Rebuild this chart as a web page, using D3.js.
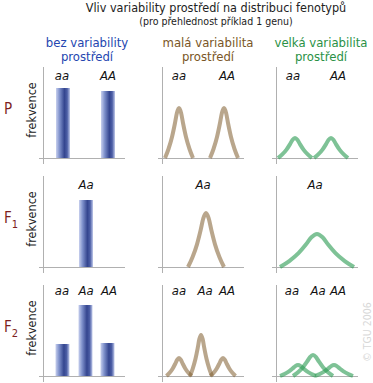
<!DOCTYPE html>
<html>
<head>
<meta charset="utf-8">
<script src="https://cdn.jsdelivr.net/npm/d3@7"></script>
<style>
  html, body { margin: 0; padding: 0; background: #fff; }
  svg { display: block; font-family: "DejaVu Sans Condensed", "DejaVu Sans", sans-serif; }
</style>
</head>
<body>
<div id="chart"></div>
<script>
// --- data ---
const title = "Vliv variability prostředí na distribuci fenotypů";
const subtitle = "(pro přehlednost příklad 1 genu)";
const columnTitles = [
  ["bez variability", "prostředí"],
  ["malá variabilita", "prostředí"],
  ["velká variabilita", "prostředí"],
];
const rowNames = [["P", ""], ["F", "1"], ["F", "2"]];
const yAxisTitle = "frekvence";

// genotype tick labels per row and their x positions (per column)
const genotypes = [["aa", "AA"], ["Aa"], ["aa", "Aa", "AA"]];
const labelX = [
  [[19, 65], [43], [19, 43, 66]],
  [[17, 65], [41], [17, 43, 65]],
  [[17, 62], [39], [16, 42, 62]],
];

// column 1: bars (centre, height)
const barX = [[20, 65], [43], [19.5, 42.5, 64.5]];
const barHeight = [[70, 67], [67], [32, 71, 33]];

// column 2 and 3: peaks (centre, height, half-width)
const smallPeakX = [[17, 62], [44], [17, 39, 61]];
const smallPeakHeight = [[50, 50], [54], [18, 41, 18]];
const smallPeakWidth = [[14, 14], [18], [12.5, 11, 12.5]];

const largePeakX = [[19, 55], [41], [22, 37, 58]];
const largePeakHeight = [[20, 20], [33], [11, 21, 11]];
const largePeakWidth = [[17, 17], [37], [18, 20, 19]];

// peak outline (relative offset, relative height)
const profileX = [-1, -0.75, -0.5, -0.3, -0.15, 0, 0.15, 0.3, 0.5, 0.75, 1];
const profileY = [0, 0.18, 0.42, 0.68, 0.9, 1, 0.9, 0.68, 0.42, 0.18, 0];

// --- layout ---
const width = 373, height = 383;
const colOrigin = [43, 162, 276];
const rowBaseline = [158, 267, 376];
const panelW = 80, panelH = 90;

const colColor = ["#2446b0", "#7a5626", "#2a9146"];
const rowColor = "#7d1f1f";
const axisColor = "#b0b0b0";
const brown = "rgb(128,92,46)";
const green = "rgb(46,156,86)";

const svg = d3.select("#chart").append("svg")
  .attr("width", width)
  .attr("height", height)
  .attr("viewBox", [0, 0, width, height]);

const defs = svg.append("defs");
const grad = defs.append("linearGradient")
  .attr("id", "bar-gradient")
  .attr("x1", "0%").attr("x2", "100%").attr("y1", "0%").attr("y2", "0%");
[[0, "#c8d0ee"], [0.25, "#8092cc"], [0.6, "#34458f"], [0.8, "#4d5fa6"], [1, "#c0c9ea"]]
  .forEach(([o, c]) => grad.append("stop").attr("offset", o).attr("stop-color", c));

// titles
svg.append("text")
  .attr("x", 216).attr("y", 12)
  .attr("text-anchor", "middle")
  .style("font-size", "12.5px")
  .attr("fill", "#222")
  .text(title);

svg.append("text")
  .attr("x", 216).attr("y", 25)
  .attr("text-anchor", "middle")
  .style("font-size", "10.5px")
  .attr("fill", "#222")
  .text(subtitle);

const colCenter = [87, 208, 321];
columnTitles.forEach((lines, i) => {
  lines.forEach((line, j) => {
    svg.append("text")
      .attr("x", colCenter[i]).attr("y", 47 + j * 14)
      .attr("text-anchor", "middle")
      .style("font-size", "13px")
      .attr("fill", colColor[i])
      .text(line);
  });
});

// watermark
svg.append("text")
  .attr("transform", "translate(371,332) rotate(-90)")
  .attr("text-anchor", "middle")
  .style("font-size", "10.5px")
  .attr("fill", "#d8d8d8")
  .text("© TGU 2006");

const peakLine = d3.line().curve(d3.curveMonotoneX);

rowBaseline.forEach((base, r) => {
  const y = d3.scaleLinear().domain([0, panelH]).range([base, base - panelH]);

  // row label
  const rl = svg.append("text")
    .attr("x", 4).attr("y", y(44))
    .style("font-size", "15px")
    .attr("fill", rowColor)
    .text(rowNames[r][0]);
  if (rowNames[r][1]) {
    rl.append("tspan")
      .attr("dy", 5)
      .style("font-size", "11px")
      .text(rowNames[r][1]);
  }

  // y axis title
  svg.append("text")
    .attr("transform", `translate(36,${y(48)}) rotate(-90)`)
    .attr("text-anchor", "middle")
    .style("font-size", "12.5px")
    .attr("fill", "#222")
    .text(yAxisTitle);

  colOrigin.forEach((ox, c) => {
    const x = d3.scaleLinear().domain([0, panelW]).range([ox, ox + panelW]);
    const g = svg.append("g");

    // axes
    g.append("line")
      .attr("x1", x(-4)).attr("x2", x(82))
      .attr("y1", y(0) + 0.5).attr("y2", y(0) + 0.5)
      .attr("stroke", axisColor);
    g.append("line")
      .attr("x1", x(0) + 0.5).attr("x2", x(0) + 0.5)
      .attr("y1", y(91)).attr("y2", y(-6))
      .attr("stroke", axisColor);

    // genotype labels
    genotypes[r].forEach((t, k) => {
      g.append("text")
        .attr("x", x(labelX[c][r][k]))
        .attr("y", y(r === 2 ? 81 : 78))
        .attr("text-anchor", "middle")
        .style("font-size", "13px")
        .style("font-style", "italic")
        .attr("fill", "#111")
        .text(t);
    });

    if (c === 0) {
      g.selectAll("rect")
        .data(barX[r].map((bx, k) => ({ bx, h: barHeight[r][k] })))
        .join("rect")
        .attr("x", (d) => x(d.bx - 7))
        .attr("width", (d) => x(d.bx + 7) - x(d.bx - 7))
        .attr("y", (d) => y(d.h))
        .attr("height", (d) => y(0) - y(d.h))
        .attr("fill", "url(#bar-gradient)");
    } else {
      const px = c === 1 ? smallPeakX : largePeakX;
      const ph = c === 1 ? smallPeakHeight : largePeakHeight;
      const pw = c === 1 ? smallPeakWidth : largePeakWidth;
      px[r].forEach((cx, k) => {
        const pts = profileX.map((u, i) => [
          x(cx + u * pw[r][k]),
          y(profileY[i] * ph[r][k]),
        ]);
        g.append("path")
          .attr("d", peakLine(pts))
          .attr("fill", "none")
          .attr("stroke", c === 1 ? brown : green)
          .attr("stroke-opacity", c === 1 ? 0.55 : 0.62)
          .attr("stroke-width", 4)
          .attr("stroke-linejoin", "round")
          .attr("stroke-linecap", "butt");
      });
    }
  });
});
</script>
</body>
</html>
